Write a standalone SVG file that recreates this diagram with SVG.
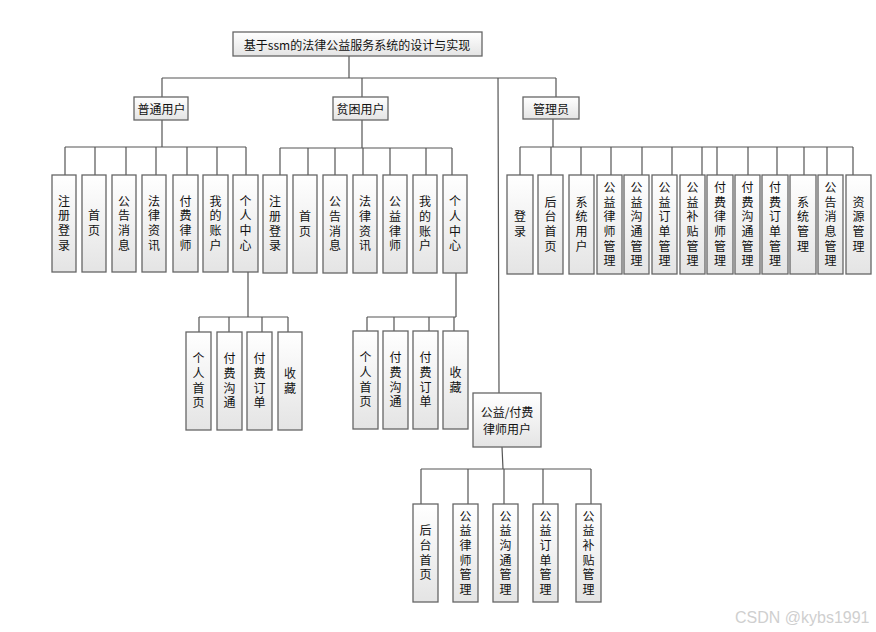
<svg xmlns="http://www.w3.org/2000/svg" width="876" height="632" viewBox="0 0 876 632">
<defs>
<linearGradient id="g" x1="0" y1="0" x2="0" y2="1">
<stop offset="0" stop-color="#ffffff"/>
<stop offset="1" stop-color="#e4e4e4"/>
</linearGradient>
<style>
.b{fill:url(#g);stroke:#666;stroke-width:1.3}
.c{fill:none;stroke:#555;stroke-width:1.2}
text{font-family:"Noto Sans CJK SC","Liberation Sans",sans-serif;font-size:12px;fill:#111;text-anchor:middle;dominant-baseline:central}
.v{writing-mode:vertical-rl;letter-spacing:2.6px}
.w{font-family:"Liberation Sans",sans-serif;font-size:16px;fill:#cfcfcf;text-anchor:start}
</style>
</defs>
<rect width="876" height="632" fill="#fff"/>
<g id="connectors">
<path class="c" d="M349 56V78M162 78H556M162 78V97M362 78V97M556 78V97M498 78L499 393"/>
<path class="c" d="M162 120V147M65 147H246M65 147V175M95 147V175M126 147V175M156 147V175M187 147V175M217 147V175M246 147V175"/>
<path class="c" d="M362 120V148M280 148H452M280 148V175M308 148V175M335 148V175M363 148V175M390 148V175M426 148V175M452 148V175"/>
<path class="c" d="M553 119V147M520 147H853M520 147V175M551 147V175M581 147V175M611 147V175M642 147V175M672 147V175M702 147V175M717 147V175M748 147V175M777 147V175M804 147V175M827 147V175M853 147V175"/>
<path class="c" d="M248 272V317M199 317H288M199 317V332M229 317V332M262 317V332M288 317V332"/>
<path class="c" d="M456 273V317M367 317H456M367 317V331M394 317V331M429 317V331M454 317V331"/>
<path class="c" d="M502 447L503 469M421 469H591M421 469V504M468 469V504M504 469V504M543 469V504M591 469V504"/>
</g>
<g id="title"><rect class="b" x="233" y="32" width="249" height="24"/><text x="357" y="44">基于ssm的法律公益服务系统的设计与实现</text></g>
<g id="putong"><rect class="b" x="134" y="97" width="54" height="23"/><text x="161.5" y="108.5">普通用户</text></g>
<g id="pinkun"><rect class="b" x="333" y="97" width="55" height="23"/><text x="360.5" y="108.5">贫困用户</text></g>
<g id="admin"><rect class="b" x="523" y="97" width="56" height="22"/><text x="551" y="108">管理员</text></g>
<g id="lawyer"><rect class="b" x="473" y="393" width="68" height="54"/><text x="507" y="411">公益/付费</text><text x="507" y="428.5">律师用户</text></g>

<g id="a1"><rect class="b" x="52" y="175" width="24" height="97"/><text class="v" x="64" y="224.5">注册登录</text></g>
<g id="a2"><rect class="b" x="82" y="175" width="24" height="97"/><text class="v" x="94" y="224.5">首页</text></g>
<g id="a3"><rect class="b" x="112" y="175" width="24" height="97"/><text class="v" x="124" y="224.5">公告消息</text></g>
<g id="a4"><rect class="b" x="142" y="175" width="24" height="97"/><text class="v" x="154" y="224.5">法律资讯</text></g>
<g id="a5"><rect class="b" x="173" y="175" width="25" height="97"/><text class="v" x="185.5" y="224.5">付费律师</text></g>
<g id="a6"><rect class="b" x="203" y="175" width="25" height="97"/><text class="v" x="215.5" y="224.5">我的账户</text></g>
<g id="a7"><rect class="b" x="233" y="175" width="25" height="97"/><text class="v" x="245.5" y="224.5">个人中心</text></g>

<g id="b1"><rect class="b" x="263" y="175" width="24" height="98"/><text class="v" x="275" y="225">注册登录</text></g>
<g id="b2"><rect class="b" x="293" y="175" width="24" height="98"/><text class="v" x="305" y="225">首页</text></g>
<g id="b3"><rect class="b" x="323" y="175" width="24" height="98"/><text class="v" x="335" y="225">公告消息</text></g>
<g id="b4"><rect class="b" x="353" y="175" width="24" height="98"/><text class="v" x="365" y="225">法律资讯</text></g>
<g id="b5"><rect class="b" x="383" y="175" width="24" height="98"/><text class="v" x="395" y="225">公益律师</text></g>
<g id="b6"><rect class="b" x="413" y="175" width="24" height="98"/><text class="v" x="425" y="225">我的账户</text></g>
<g id="b7"><rect class="b" x="443" y="175" width="24" height="98"/><text class="v" x="455" y="225">个人中心</text></g>

<g id="c1"><rect class="b" x="507" y="175" width="26" height="99"/><text class="v" x="520" y="225.5">登录</text></g>
<g id="c2"><rect class="b" x="538" y="175" width="25" height="99"/><text class="v" x="550.5" y="225.5">后台首页</text></g>
<g id="c3"><rect class="b" x="569" y="175" width="25" height="99"/><text class="v" x="581.5" y="225.5">系统用户</text></g>
<g id="c4"><rect class="b" x="597" y="175" width="25" height="99"/><text class="v" x="609.5" y="225.5">公益律师管理</text></g>
<g id="c5"><rect class="b" x="624" y="175" width="25" height="99"/><text class="v" x="636.5" y="225.5">公益沟通管理</text></g>
<g id="c6"><rect class="b" x="652" y="175" width="25" height="99"/><text class="v" x="664.5" y="225.5">公益订单管理</text></g>
<g id="c7"><rect class="b" x="680" y="175" width="25" height="99"/><text class="v" x="692.5" y="225.5">公益补贴管理</text></g>
<g id="c8"><rect class="b" x="707" y="175" width="26" height="99"/><text class="v" x="720" y="225.5">付费律师管理</text></g>
<g id="c9"><rect class="b" x="735" y="175" width="25" height="99"/><text class="v" x="747.5" y="225.5">付费沟通管理</text></g>
<g id="c10"><rect class="b" x="762" y="175" width="26" height="99"/><text class="v" x="775" y="225.5">付费订单管理</text></g>
<g id="c11"><rect class="b" x="790" y="175" width="26" height="99"/><text class="v" x="803" y="225.5">系统管理</text></g>
<g id="c12"><rect class="b" x="818" y="175" width="25" height="99"/><text class="v" x="830.5" y="225.5">公告消息管理</text></g>
<g id="c13"><rect class="b" x="846" y="175" width="25" height="99"/><text class="v" x="858.5" y="225.5">资源管理</text></g>

<g id="d1"><rect class="b" x="186" y="332" width="25" height="98"/><text class="v" x="198.5" y="382">个人首页</text></g>
<g id="d2"><rect class="b" x="217" y="332" width="25" height="98"/><text class="v" x="229.5" y="382">付费沟通</text></g>
<g id="d3"><rect class="b" x="247" y="332" width="25" height="98"/><text class="v" x="259.5" y="382">付费订单</text></g>
<g id="d4"><rect class="b" x="278" y="332" width="24" height="98"/><text class="v" x="290" y="382">收藏</text></g>

<g id="e1"><rect class="b" x="353" y="331" width="25" height="98"/><text class="v" x="365.5" y="381">个人首页</text></g>
<g id="e2"><rect class="b" x="383" y="331" width="25" height="98"/><text class="v" x="395.5" y="381">付费沟通</text></g>
<g id="e3"><rect class="b" x="413" y="331" width="25" height="98"/><text class="v" x="425.5" y="381">付费订单</text></g>
<g id="e4"><rect class="b" x="443" y="331" width="25" height="98"/><text class="v" x="455.5" y="381">收藏</text></g>

<g id="f1"><rect class="b" x="413" y="504" width="25" height="98"/><text class="v" x="425.5" y="554">后台首页</text></g>
<g id="f2"><rect class="b" x="453" y="504" width="25" height="98"/><text class="v" x="465.5" y="554">公益律师管理</text></g>
<g id="f3"><rect class="b" x="493" y="504" width="25" height="98"/><text class="v" x="505.5" y="554">公益沟通管理</text></g>
<g id="f4"><rect class="b" x="533" y="504" width="25" height="98"/><text class="v" x="545.5" y="554">公益订单管理</text></g>
<g id="f5"><rect class="b" x="576" y="504" width="25" height="98"/><text class="v" x="588.5" y="554">公益补贴管理</text></g>

<text class="w" x="735" y="617">CSDN @kybs1991</text>
</svg>
